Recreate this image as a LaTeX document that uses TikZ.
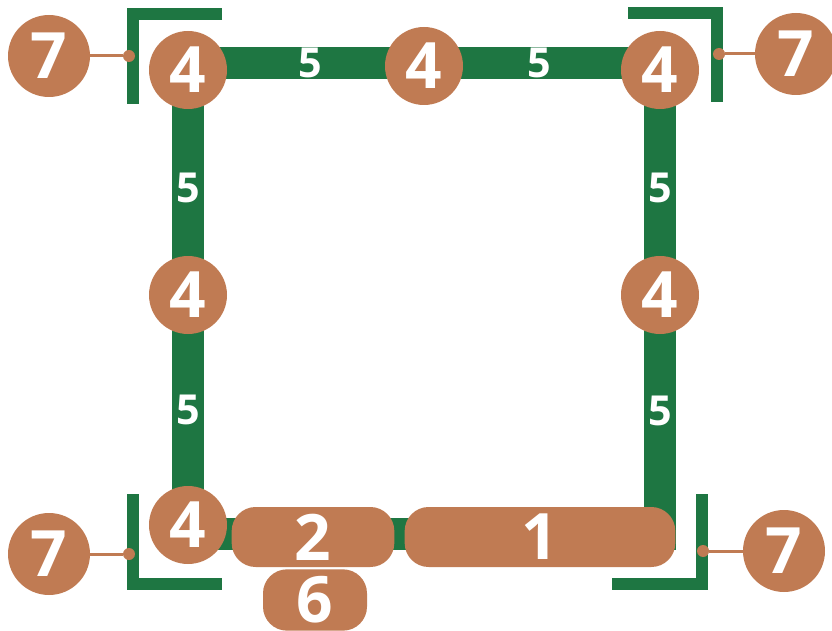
\documentclass[tikz,border=0pt]{standalone}
\usepackage{fontspec}
\setmainfont{Open Sans}
\usetikzlibrary{positioning}
\definecolor{pipegreen}{RGB}{30,118,66}
\definecolor{clay}{RGB}{192,123,83}
\tikzset{
  bar/.style={draw=pipegreen,line width=24pt},
  brkt/.style={draw=pipegreen,line width=9pt},
  joint/.style={circle,fill=clay,minimum size=58.5pt,inner sep=0pt,text=white,font=\fontsize{48}{48}\selectfont\bfseries},
  callout/.style={joint,minimum size=61.5pt},
  seglbl/.style={text=white,inner sep=0pt,font=\fontsize{31}{31}\selectfont\bfseries},
  pill/.style={rectangle,rounded corners=18pt,fill=clay,minimum height=45pt,inner sep=0pt,text=white,font=\fontsize{48}{48}\selectfont\bfseries},
  pin/.style={circle,fill=clay,minimum size=9pt,inner sep=0pt},
  lead/.style={draw=clay,line width=2.25pt}
}

\begin{document}
\begin{tikzpicture}[x=0.75pt,y=-0.75pt,node distance=24pt]
  \useasboundingbox (0,0) rectangle (832,631);

  % pipe frame
  \coordinate (ftl) at (188,63);
  \coordinate (ftr) at (660,63);
  \coordinate (fbr) at (660,534);
  \coordinate (fbl) at (188,534);
  \draw[bar] (ftl) -- node[seglbl,pos=0.26] (s1) {5} node[seglbl,pos=0.745] (s2) {5} (ftr)
    -- node[seglbl,pos=0.265] (s3) {5} node[seglbl,pos=0.738] (s4) {5} (fbr)
    -- (fbl)
    -- node[seglbl,pos=0.263] (s6) {5} node[seglbl,pos=0.735] (s5) {5} cycle;

  % corner brackets
  \coordinate (ba1) at (222,14);  \coordinate (ba2) at (133,14);  \coordinate (ba3) at (133,104);
  \coordinate (bb1) at (628,13);  \coordinate (bb2) at (717,13);  \coordinate (bb3) at (717,102);
  \coordinate (bc1) at (133,494); \coordinate (bc2) at (133,584); \coordinate (bc3) at (222,584);
  \coordinate (bd1) at (702,494); \coordinate (bd2) at (702,584); \coordinate (bd3) at (612,584);
  \draw[brkt] (ba1) -- (ba2) -- (ba3);
  \draw[brkt] (bb1) -- (bb2) -- (bb3);
  \draw[brkt] (bc1) -- (bc2) -- (bc3);
  \draw[brkt] (bd1) -- (bd2) -- (bd3);

  % joints
  \node[joint] (tl) at (188,70) {4};
  \node[joint] (tm) at (424,66) {4};
  \node[joint] (tr) at (660,70) {4};
  \node[joint] (ml) at (188,295) {4};
  \node[joint] (mr) at (660,295) {4};
  \node[joint] (bl) at (188,525) {4};

  % fittings
  \node[pill,minimum width=122pt] (p2) at (313,537) {2};
  \node[pill,minimum width=203pt] (p1) at (540,537) {1};
  \node[pill,minimum width=78pt,minimum height=46pt] (p6) at (315,600) {6};

  % callouts
  \node[pin] (d1) at (129,56) {};
  \node[pin] (d2) at (719,54) {};
  \node[pin] (d3) at (129,554) {};
  \node[pin] (d4) at (703,551) {};
  \node[callout] (c1) at (49,56) {7};
  \node[callout] (c2) at (796,54) {7};
  \node[callout] (c3) at (49,554) {7};
  \node[callout] (c4) at (784,551) {7};
  \draw[lead] (d1) -- (c1);
  \draw[lead] (d2) -- (c2);
  \draw[lead] (d3) -- (c3);
  \draw[lead] (d4) -- (c4);
\end{tikzpicture}
\end{document}
